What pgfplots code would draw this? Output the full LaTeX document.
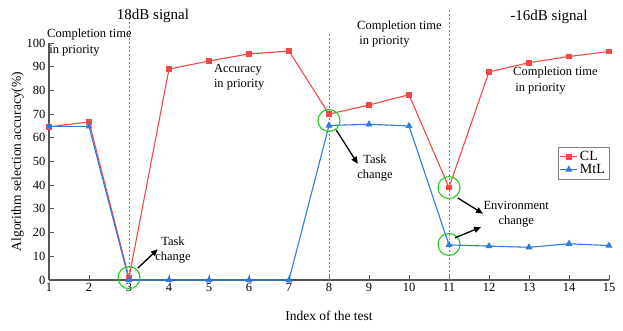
\documentclass[border=0pt]{standalone}
\usepackage{fontspec}
\setmainfont{Liberation Serif}
\usepackage{pgfplots}
\pgfplotsset{compat=1.18}
\usetikzlibrary{arrows.meta}
\definecolor{cCL}{HTML}{F04848}
\definecolor{cMtL}{HTML}{2F7BE0}
\definecolor{cRing}{HTML}{22CC22}
\definecolor{spine}{HTML}{555555}
\begin{document}
\begin{tikzpicture}[x=1pt,y=1pt]
\useasboundingbox (-49,-51) rectangle (574,280);
\begin{axis}[
  at={(0,0)}, anchor=south west,
  scale only axis, width=560pt, height=237pt,
  xmin=1, xmax=15, ymin=0, ymax=100,
  xtick={1,...,15}, ytick={0,10,...,100},
  axis x line=bottom, axis y line=left,
  axis line style={spine,line width=1.2pt,-},
  tick style={spine,line width=0.9pt},
  tick align=inside, major tick length=5pt,
  font=\fontsize{12.5}{15}\selectfont,
  /pgf/number format/assume math mode=true,
  xlabel={Index of the test},
  ylabel={Algorithm selection accuracy(\%)},
  label style={font=\fontsize{13.5}{16}\selectfont},
  xlabel style={yshift=-12pt},
  ylabel style={yshift=-4pt},
  legend style={at={(axis cs:15,56)},anchor=north east,draw=gray,
    font=\fontsize{14}{15}\selectfont,row sep=-2pt,inner sep=2pt},
  legend cell align=left,
  clip=false,
]
\draw[gray,dash pattern=on 2pt off 2pt,line width=0.5pt] (axis cs:3,0) -- (axis cs:3,114);
\draw[gray,dash pattern=on 2pt off 2pt,line width=0.5pt] (axis cs:8,0) -- (axis cs:8,104);
\draw[gray,dash pattern=on 2pt off 2pt,line width=0.5pt] (axis cs:11,0) -- (axis cs:11,114);
\addplot[cCL,line width=1.1pt,mark=square*,mark size=2.3pt] coordinates {
 (1,64.6) (2,66.7) (3,1) (4,89) (5,92.4) (6,95.4) (7,96.6)
 (8,70) (9,73.8) (10,78.2) (11,39) (12,87.8) (13,91.7) (14,94.3) (15,96.4)
};
\addlegendentry{CL}
\addplot[cMtL,line width=1.1pt,mark=triangle*,mark size=3pt] coordinates {
 (1,64.8) (2,64.8) (3,0) (4,0) (5,0) (6,0) (7,0)
 (8,65.2) (9,65.7) (10,65) (11,14.8) (12,14.3) (13,13.8) (14,15.3) (15,14.5)
};
\addlegendentry{MtL}
\draw[cRing,line width=1.1pt] (axis cs:3,1) circle[radius=11pt];
\draw[cRing,line width=1.1pt] (axis cs:8,67.3) circle[radius=11pt];
\draw[cRing,line width=1.1pt] (axis cs:11,39) circle[radius=11pt];
\draw[cRing,line width=1.1pt] (axis cs:11,15) circle[radius=11pt];
\draw[black,line width=1.3pt,-{Triangle[length=7pt,width=6pt]}] (axis cs:3.22,5) -- (axis cs:3.72,13);
\draw[black,line width=1.3pt,-{Triangle[length=7pt,width=6pt]}] (axis cs:8.18,63.3) -- (axis cs:8.72,49);
\draw[black,line width=1.3pt,-{Triangle[length=7pt,width=6pt]}] (axis cs:11.22,34.6) -- (axis cs:11.85,28);
\draw[black,line width=1.3pt,-{Triangle[length=7pt,width=6pt]}] (axis cs:11.15,17.8) -- (axis cs:11.8,22.3);
\node[font=\fontsize{15}{17}\selectfont] at (axis cs:3.6,111.4) {18dB signal};
\node[font=\fontsize{15}{17}\selectfont] at (axis cs:13.5,111) {-16dB signal};
\node[anchor=west,align=left,inner sep=0pt,font=\fontsize{12.5}{15.5}\selectfont] at (axis cs:0.95,100.2) {Completion time\\ \,in priority};
\node[anchor=west,align=left,inner sep=0pt,font=\fontsize{12.5}{15.5}\selectfont] at (axis cs:5.12,85.6) {Accuracy\\in priority};
\node[anchor=west,align=left,inner sep=0pt,font=\fontsize{12.5}{15.5}\selectfont] at (axis cs:8.7,103.8) {Completion time\\ \,in priority};
\node[anchor=west,align=left,inner sep=0pt,font=\fontsize{12.5}{15.5}\selectfont] at (axis cs:12.6,84.2) {Completion time\\ \,in priority};
\node[align=center,inner sep=0pt,font=\fontsize{12.5}{14.5}\selectfont] at (axis cs:4.1,12.7) {Task\\change};
\node[align=center,inner sep=0pt,font=\fontsize{12.5}{14.5}\selectfont] at (axis cs:9.15,47.3) {Task\\change};
\node[align=center,inner sep=0pt,font=\fontsize{12.5}{15.5}\selectfont] at (axis cs:12.68,27.8) {Environment\\change};
\end{axis}
\end{tikzpicture}
\end{document}
